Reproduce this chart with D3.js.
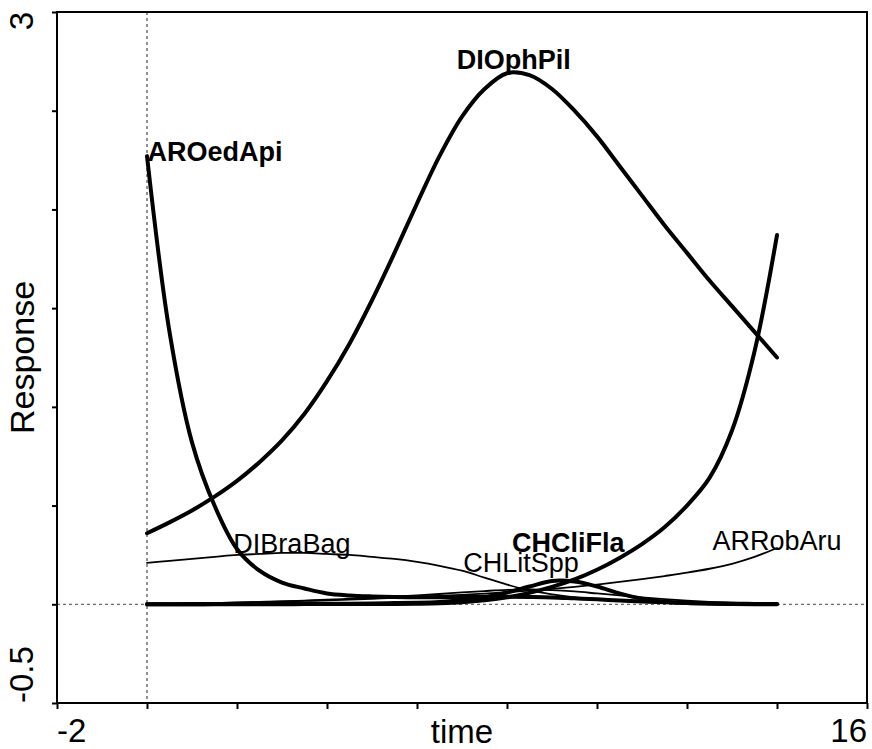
<!DOCTYPE html>
<html>
<head>
<meta charset="utf-8">
<script src="https://cdn.jsdelivr.net/npm/d3@7"></script>
<style>
  body { margin: 0; background: #fff; }
  text { font-family: "Liberation Sans", Arial, sans-serif; fill: #000; }
</style>
</head>
<body>
<script>
var w = 872;
var h = 749;

// time points of the fitted response curves
var times = [0,0.5,1,1.5,2,2.5,3,3.5,4,4.5,5,5.5,6,6.5,7,7.5,8,8.5,9,9.5,10,10.5,11,11.5,12,12.5,13,13.5,14];

// thick curves
var AROedApi = [2.27,1.38,0.82,0.50,0.28,0.17,0.11,0.08,0.055,0.045,0.040,0.037,0.036,0.036,0.037,0.038,0.038,0.037,0.035,0.030,0.025,0.019,0.014,0.010,0.007,0.005,0.003,0.002,0.001];
var DIOphPil = [0.36,0.415,0.475,0.545,0.625,0.72,0.83,0.965,1.13,1.32,1.54,1.78,2.03,2.27,2.47,2.61,2.69,2.68,2.61,2.50,2.37,2.22,2.07,1.92,1.78,1.64,1.51,1.38,1.25];
var CHCliFla = [0,0,0,0.001,0.001,0.001,0.002,0.002,0.003,0.003,0.004,0.006,0.008,0.012,0.02,0.035,0.06,0.09,0.118,0.115,0.09,0.055,0.028,0.013,0.006,0.003,0.001,0,0];
var risingSp = [0,0,0,0,0,0,0,0.001,0.001,0.001,0.002,0.002,0.003,0.005,0.01,0.02,0.035,0.058,0.088,0.126,0.175,0.235,0.305,0.39,0.50,0.64,0.88,1.28,1.87];

// thin curves
var DIBraBag = [0.21,0.22,0.23,0.24,0.25,0.255,0.26,0.26,0.255,0.25,0.24,0.23,0.215,0.195,0.17,0.135,0.10,0.07,0.05,0.035,0.025,0.018,0.012,0.008,0.005,0.003,0.002,0.001,0.001];
var CHLitSpp = [0,0.002,0.004,0.006,0.009,0.012,0.015,0.019,0.023,0.028,0.033,0.039,0.045,0.052,0.06,0.067,0.073,0.075,0.072,0.065,0.055,0.045,0.035,0.026,0.018,0.012,0.008,0.005,0.003];
var ARRobAru = [0,0.002,0.004,0.006,0.008,0.011,0.014,0.017,0.02,0.024,0.028,0.032,0.037,0.042,0.048,0.054,0.061,0.069,0.078,0.088,0.10,0.113,0.127,0.143,0.16,0.18,0.205,0.24,0.285];

// species labels (text centre in time, baseline in response)
var labelNames = ["AROedApi","DIOphPil","CHCliFla","DIBraBag","CHLitSpp","ARRobAru"];
var labelT = [1.51, 8.15, 9.36, 3.22, 8.31, 14.0];
var labelV = [2.245, 2.71, 0.265, 0.26, 0.164, 0.275];
var labelBold = [true, true, true, false, false, false];

// axes
var xTicks = [-2,0,2,4,6,8,10,12,14,16];
var yTicks = [-0.5,0,0.5,1,1.5,2,2.5,3];

var curves = [
    {name: "AROedApi", values: AROedApi, thick: true},
    {name: "DIOphPil", values: DIOphPil, thick: true},
    {name: "CHCliFla", values: CHCliFla, thick: true},
    {name: "rising", values: risingSp, thick: true},
    {name: "DIBraBag", values: DIBraBag, thick: false},
    {name: "CHLitSpp", values: CHLitSpp, thick: false},
    {name: "ARRobAru", values: ARRobAru, thick: false}
];

var x = d3.scaleLinear().domain([-2, 16]).range([57, 867]);
var y = d3.scaleLinear().domain([-0.5, 3]).range([703, 12]);

var svg = d3.select("body").append("svg")
    .attr("width", w)
    .attr("height", h);

// reference lines
svg.append("line")
    .attr("x1", x(0)).attr("x2", x(0))
    .attr("y1", y(3)).attr("y2", y(-0.5))
    .attr("stroke", "#222").attr("stroke-width", 1)
    .attr("stroke-dasharray", "3,3");
svg.append("line")
    .attr("x1", x(-2)).attr("x2", x(16))
    .attr("y1", y(0)).attr("y2", y(0))
    .attr("stroke", "#444").attr("stroke-width", 1)
    .attr("stroke-dasharray", "3,3");

// curves
var line = d3.line()
    .x(function(d, i) { return x(times[i]); })
    .y(function(d) { return y(d); })
    .curve(d3.curveCatmullRom.alpha(0.5));

svg.selectAll(".curve")
    .data(curves)
    .enter().append("path")
    .attr("class", "curve")
    .attr("d", function(d) { return line(d.values); })
    .attr("fill", "none")
    .attr("stroke", "#000")
    .attr("stroke-linecap", "round")
    .attr("stroke-linejoin", "round")
    .attr("stroke-width", function(d) { return d.thick ? 4 : 1.8; });

// labels
svg.selectAll(".lab")
    .data(labelNames)
    .enter().append("text")
    .attr("class", "lab")
    .attr("x", function(d, i) { return x(labelT[i]); })
    .attr("y", function(d, i) { return y(labelV[i]); })
    .attr("text-anchor", "middle")
    .attr("font-size", 27)
    .attr("font-weight", function(d, i) { return labelBold[i] ? "bold" : "normal"; })
    .text(function(d) { return d; });

// axes
var xAxis = d3.axisBottom(x).tickValues(xTicks).tickSize(6).tickFormat("");
var yAxis = d3.axisLeft(y).tickValues(yTicks).tickSize(5).tickFormat("");

svg.append("g")
    .attr("transform", "translate(0," + y(-0.5) + ")")
    .call(xAxis)
    .call(function(g) { g.select(".domain").remove(); })
    .selectAll("line").attr("stroke", "#000").attr("stroke-width", 2);

svg.append("g")
    .attr("transform", "translate(" + x(-2) + ",0)")
    .call(yAxis)
    .call(function(g) { g.select(".domain").remove(); })
    .selectAll("line").attr("stroke", "#000").attr("stroke-width", 2);

// box
svg.append("rect")
    .attr("x", x(-2)).attr("y", y(3))
    .attr("width", x(16) - x(-2))
    .attr("height", y(-0.5) - y(3))
    .attr("fill", "none")
    .attr("stroke", "#000")
    .attr("stroke-width", 2);

// end tick labels
svg.append("text")
    .attr("x", x(-2)).attr("y", 742)
    .attr("text-anchor", "start")
    .attr("font-size", 33)
    .text("-2");
svg.append("text")
    .attr("x", x(16)).attr("y", 742)
    .attr("text-anchor", "end")
    .attr("font-size", 33)
    .text("16");
svg.append("text")
    .attr("transform", "translate(33," + y(3) + ") rotate(-90)")
    .attr("text-anchor", "end")
    .attr("font-size", 33)
    .text("3");
svg.append("text")
    .attr("transform", "translate(33," + y(-0.5) + ") rotate(-90)")
    .attr("text-anchor", "start")
    .attr("font-size", 33)
    .text("-0.5");

// axis titles
svg.append("text")
    .attr("x", (x(-2) + x(16)) / 2).attr("y", 743)
    .attr("text-anchor", "middle")
    .attr("font-size", 33)
    .text("time");
svg.append("text")
    .attr("transform", "translate(34," + (y(3) + y(-0.5)) / 2 + ") rotate(-90)")
    .attr("text-anchor", "middle")
    .attr("font-size", 34)
    .text("Response");
</script>
</body>
</html>
